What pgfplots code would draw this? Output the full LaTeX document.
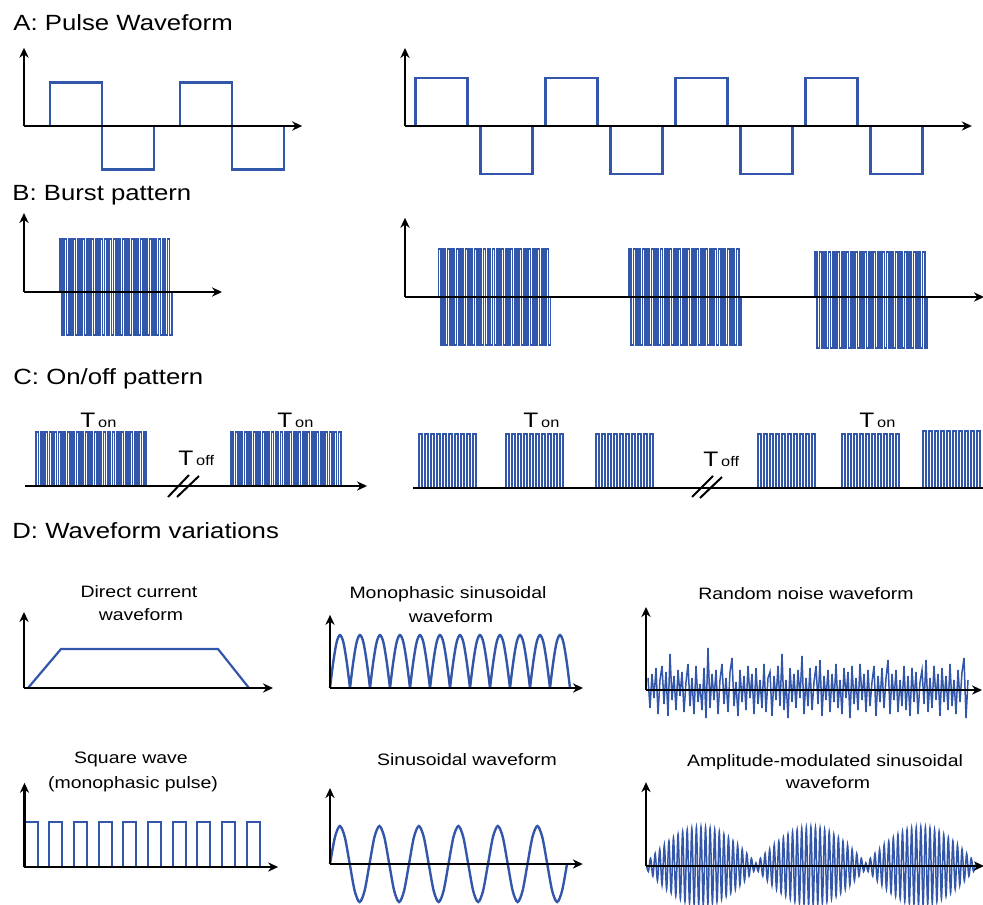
\documentclass[border=0pt]{standalone}
\usepackage{pgfplots}
\pgfplotsset{compat=1.18}
\usepackage{fontspec}
\setmainfont{Liberation Sans}
\usepackage{graphicx}
\usetikzlibrary{arrows.meta}
\definecolor{wblue}{RGB}{50,86,170}
\tikzset{axarr/.style={black,line width=1.1pt,-{Stealth[length=5pt,width=4.6pt]}},
 axline/.style={black,line width=1.1pt},
 brk/.style={black,line width=1pt}}
\pgfplotsset{wave/.style={hide axis, clip=false, anchor=origin},
 burst/.style={wblue, line width=0.85pt, const plot}}
\newcommand\ttl[1]{\scalebox{1.17}[1]{\fontsize{11}{13}\selectfont #1}}
\newcommand\lab[1]{\scalebox{1.18}[1]{\fontsize{8.25}{10}\selectfont #1}}
\newcommand\Tl[1]{\scalebox{1.17}[1]{\fontsize{10.5}{12}\selectfont T\hspace{1.2pt}\fontsize{7}{8}\selectfont #1}}
\begin{document}
\begin{tikzpicture}[x=0.5pt,y=-0.5pt]
\path[use as bounding box] (0,0) rectangle (983,904);
% ---------- titles ----------
\node[anchor=base west,inner sep=0] at (13,31) {\ttl{A: Pulse Waveform}};
\node[anchor=base west,inner sep=0] at (12,200) {\ttl{B: Burst pattern}};
\node[anchor=base west,inner sep=0] at (13,384) {\ttl{C: On/off pattern}};
\node[anchor=base west,inner sep=0] at (12,538) {\ttl{D: Waveform variations}};
% ---------- A left ----------
\begin{axis}[wave, at={(12pt,-63pt)}, x=13pt, y=21.75pt, xmin=0, xmax=10.7, ymin=-1.1, ymax=1.8]
\addplot[wblue, line width=1.15pt] coordinates {(0,0)(1,0)(1,1)(3,1)(3,-1)(5,-1)(5,0)(6,0)(6,1)(8,1)(8,-1)(10,-1)(10,0)};
\draw[axarr] (axis cs:0,0) -- (axis cs:10.7,0);
\draw[axarr] (axis cs:0,0) -- (axis cs:0,1.8);
\end{axis}
% ---------- A right ----------
\begin{axis}[wave, at={(202.5pt,-63pt)}, x=6.5pt, y=24pt, xmin=0, xmax=43.6, ymin=-1.1, ymax=1.65]
\addplot[wblue, line width=1.15pt] coordinates {(0,0)(0.8,0)(0.8,1)(4.8,1)(4.8,0)(5.8,0)(5.8,-1)(9.8,-1)(9.8,0)(10.8,0)(10.8,1)(14.8,1)(14.8,0)(15.8,0)(15.8,-1)(19.8,-1)(19.8,0)(20.8,0)(20.8,1)(24.8,1)(24.8,0)(25.8,0)(25.8,-1)(29.8,-1)(29.8,0)(30.8,0)(30.8,1)(34.8,1)(34.8,0)(35.8,0)(35.8,-1)(39.8,-1)(39.8,0)};
\draw[axarr] (axis cs:0,0) -- (axis cs:43.6,0);
\draw[axarr] (axis cs:0,0) -- (axis cs:0,1.625);
\end{axis}
% ---------- B left ----------
\begin{axis}[wave, at={(12pt,-146pt)}, x=1.12pt, y=26.5pt, xmin=0, xmax=88.4, ymin=-0.9, ymax=1.5]
\addplot[burst] coordinates {(16,0)(16,1)(17,-0.81)(18,1)(19,-0.81)(20,1)(21,-0.81)(22,1)(23,-0.81)(24,1)(25,-0.81)(26,1)(27,-0.81)(28,1)(29,-0.81)(30,1)(31,-0.81)(32,1)(33,-0.81)(34,1)(35,-0.81)(36,1)(37,-0.81)(38,1)(39,-0.81)(40,1)(41,-0.81)(42,1)(43,-0.81)(44,1)(45,-0.81)(46,1)(47,-0.81)(48,1)(49,-0.81)(50,1)(51,-0.81)(52,1)(53,-0.81)(54,1)(55,-0.81)(56,1)(57,-0.81)(58,1)(59,-0.81)(60,1)(61,-0.81)(62,1)(63,-0.81)(64,1)(65,-0.81)(66,0)};
\draw[axarr] (axis cs:0,0) -- (axis cs:88.4,0);
\draw[axarr] (axis cs:0,0) -- (axis cs:0,1.49);
\end{axis}
% ---------- B right ----------
\begin{axis}[wave, at={(202.5pt,-148.5pt)}, x=1.12pt, y=24pt, xmin=0, xmax=258.5, ymin=-1.1, ymax=1.65]
\addplot[burst] coordinates {(15,0)(15,1)(16,-1)(17,1)(18,-1)(19,1)(20,-1)(21,1)(22,-1)(23,1)(24,-1)(25,1)(26,-1)(27,1)(28,-1)(29,1)(30,-1)(31,1)(32,-1)(33,1)(34,-1)(35,1)(36,-1)(37,1)(38,-1)(39,1)(40,-1)(41,1)(42,-1)(43,1)(44,-1)(45,1)(46,-1)(47,1)(48,-1)(49,1)(50,-1)(51,1)(52,-1)(53,1)(54,-1)(55,1)(56,-1)(57,1)(58,-1)(59,1)(60,-1)(61,1)(62,-1)(63,1)(64,-1)(65,0)};
\addplot[burst] coordinates {(100,0)(100,1)(101,-1)(102,1)(103,-1)(104,1)(105,-1)(106,1)(107,-1)(108,1)(109,-1)(110,1)(111,-1)(112,1)(113,-1)(114,1)(115,-1)(116,1)(117,-1)(118,1)(119,-1)(120,1)(121,-1)(122,1)(123,-1)(124,1)(125,-1)(126,1)(127,-1)(128,1)(129,-1)(130,1)(131,-1)(132,1)(133,-1)(134,1)(135,-1)(136,1)(137,-1)(138,1)(139,-1)(140,1)(141,-1)(142,1)(143,-1)(144,1)(145,-1)(146,1)(147,-1)(148,1)(149,-1)(150,0)};
\addplot[burst] coordinates {(183,0)(183,0.94)(184,-1.06)(185,0.94)(186,-1.06)(187,0.94)(188,-1.06)(189,0.94)(190,-1.06)(191,0.94)(192,-1.06)(193,0.94)(194,-1.06)(195,0.94)(196,-1.06)(197,0.94)(198,-1.06)(199,0.94)(200,-1.06)(201,0.94)(202,-1.06)(203,0.94)(204,-1.06)(205,0.94)(206,-1.06)(207,0.94)(208,-1.06)(209,0.94)(210,-1.06)(211,0.94)(212,-1.06)(213,0.94)(214,-1.06)(215,0.94)(216,-1.06)(217,0.94)(218,-1.06)(219,0.94)(220,-1.06)(221,0.94)(222,-1.06)(223,0.94)(224,-1.06)(225,0.94)(226,-1.06)(227,0.94)(228,-1.06)(229,0.94)(230,-1.06)(231,0.94)(232,-1.06)(233,0)};
\draw[axarr] (axis cs:0,0) -- (axis cs:258.5,0);
\draw[axarr] (axis cs:0,0) -- (axis cs:0,1.65);
\end{axis}
% ---------- C left ----------
\begin{axis}[wave, at={(12.5pt,-243pt)}, x=1.12pt, y=27pt, xmin=0, xmax=152.7, ymin=-0.2, ymax=1.1]
\addplot[burst] coordinates {(5,0)(5,1)(6,0)(7,1)(8,0)(9,1)(10,0)(11,1)(12,0)(13,1)(14,0)(15,1)(16,0)(17,1)(18,0)(19,1)(20,0)(21,1)(22,0)(23,1)(24,0)(25,1)(26,0)(27,1)(28,0)(29,1)(30,0)(31,1)(32,0)(33,1)(34,0)(35,1)(36,0)(37,1)(38,0)(39,1)(40,0)(41,1)(42,0)(43,1)(44,0)(45,1)(46,0)(47,1)(48,0)(49,1)(50,0)(51,1)(52,0)(53,1)(54,0)};
\addplot[burst] coordinates {(92,0)(92,1)(93,0)(94,1)(95,0)(96,1)(97,0)(98,1)(99,0)(100,1)(101,0)(102,1)(103,0)(104,1)(105,0)(106,1)(107,0)(108,1)(109,0)(110,1)(111,0)(112,1)(113,0)(114,1)(115,0)(116,1)(117,0)(118,1)(119,0)(120,1)(121,0)(122,1)(123,0)(124,1)(125,0)(126,1)(127,0)(128,1)(129,0)(130,1)(131,0)(132,1)(133,0)(134,1)(135,0)(136,1)(137,0)(138,1)(139,0)(140,1)(141,0)};
\draw[axarr] (axis cs:0,0) -- (axis cs:152.7,0);
\end{axis}
\draw[brk] (168,497) -- (189,475);
\draw[brk] (177,497) -- (199,476);
\node[anchor=base west,inner sep=0] at (80,427) {\Tl{on}};
\node[anchor=base west,inner sep=0] at (277,427) {\Tl{on}};
\node[anchor=base west,inner sep=0] at (178,465) {\Tl{off}};
% ---------- C right ----------
\begin{axis}[wave, at={(206.5pt,-244pt)}, x=1.5pt, y=27pt, xmin=0, xmax=190, ymin=-0.2, ymax=1.1]
\addplot[burst] coordinates {(2,0)(2,1)(3,0)(4,1)(5,0)(6,1)(7,0)(8,1)(9,0)(10,1)(11,0)(12,1)(13,0)(14,1)(15,0)(16,1)(17,0)(18,1)(19,0)(20,1)(21,0)};
\addplot[burst] coordinates {(31,0)(31,1)(32,0)(33,1)(34,0)(35,1)(36,0)(37,1)(38,0)(39,1)(40,0)(41,1)(42,0)(43,1)(44,0)(45,1)(46,0)(47,1)(48,0)(49,1)(50,0)};
\addplot[burst] coordinates {(61,0)(61,1)(62,0)(63,1)(64,0)(65,1)(66,0)(67,1)(68,0)(69,1)(70,0)(71,1)(72,0)(73,1)(74,0)(75,1)(76,0)(77,1)(78,0)(79,1)(80,0)};
\addplot[burst] coordinates {(115,0)(115,1)(116,0)(117,1)(118,0)(119,1)(120,0)(121,1)(122,0)(123,1)(124,0)(125,1)(126,0)(127,1)(128,0)(129,1)(130,0)(131,1)(132,0)(133,1)(134,0)};
\addplot[burst] coordinates {(143,0)(143,1)(144,0)(145,1)(146,0)(147,1)(148,0)(149,1)(150,0)(151,1)(152,0)(153,1)(154,0)(155,1)(156,0)(157,1)(158,0)(159,1)(160,0)(161,1)(162,0)};
\addplot[burst] coordinates {(170,0)(170,1.05)(171,0)(172,1.05)(173,0)(174,1.05)(175,0)(176,1.05)(177,0)(178,1.05)(179,0)(180,1.05)(181,0)(182,1.05)(183,0)(184,1.05)(185,0)(186,1.05)(187,0)(188,1.05)(189,0)};
\draw[axline] (axis cs:0,0) -- (axis cs:190,0);
\end{axis}
\draw[brk] (692,497) -- (713,476);
\draw[brk] (700,498) -- (722,477);
\node[anchor=base west,inner sep=0] at (523,427) {\Tl{on}};
\node[anchor=base west,inner sep=0] at (859,427) {\Tl{on}};
\node[anchor=base west,inner sep=0] at (703,466) {\Tl{off}};
% ---------- D labels ----------
\node[anchor=base,inner sep=0] at (139,597) {\lab{Direct current}};
\node[anchor=base,inner sep=0] at (141,620) {\lab{waveform}};
\node[anchor=base,inner sep=0] at (448,598) {\lab{Monophasic sinusoidal}};
\node[anchor=base,inner sep=0] at (451,622) {\lab{waveform}};
\node[anchor=base,inner sep=0] at (806,599) {\lab{Random noise waveform}};
\node[anchor=base,inner sep=0] at (131,763) {\lab{Square wave}};
\node[anchor=base,inner sep=0] at (133,788) {\lab{(monophasic pulse)}};
\node[anchor=base,inner sep=0] at (467,765) {\lab{Sinusoidal waveform}};
\node[anchor=base,inner sep=0] at (825,766) {\lab{Amplitude-modulated sinusoidal}};
\node[anchor=base,inner sep=0] at (828,788) {\lab{waveform}};
% ---------- D: direct current ----------
\begin{axis}[wave, at={(12pt,-344pt)}, x=5pt, y=19.5pt, xmin=0, xmax=24.9, ymin=-0.1, ymax=1.95]
\addplot[wblue, line width=1.1pt] coordinates {(0.4,0)(3.7,1)(19.4,1)(22.5,0)};
\draw[axarr] (axis cs:0,0) -- (axis cs:24.9,0);
\draw[axarr] (axis cs:0,0) -- (axis cs:0,1.95);
\end{axis}
% ---------- D: monophasic sinusoidal ----------
\begin{axis}[wave, at={(165pt,-344pt)}, x=10pt, y=26.5pt, xmin=0, xmax=12.65, ymin=-0.1, ymax=1.38, unbounded coords=jump]
\addplot[wblue, line width=1.2pt, smooth] coordinates {
(0,0)(0.167,0.5)(0.333,0.866)(0.5,1)(0.667,0.866)(0.833,0.5)(1,0)(1,nan)
(1,0)(1.167,0.5)(1.333,0.866)(1.5,1)(1.667,0.866)(1.833,0.5)(2,0)(2,nan)
(2,0)(2.167,0.5)(2.333,0.866)(2.5,1)(2.667,0.866)(2.833,0.5)(3,0)(3,nan)
(3,0)(3.167,0.5)(3.333,0.866)(3.5,1)(3.667,0.866)(3.833,0.5)(4,0)(4,nan)
(4,0)(4.167,0.5)(4.333,0.866)(4.5,1)(4.667,0.866)(4.833,0.5)(5,0)(5,nan)
(5,0)(5.167,0.5)(5.333,0.866)(5.5,1)(5.667,0.866)(5.833,0.5)(6,0)(6,nan)
(6,0)(6.167,0.5)(6.333,0.866)(6.5,1)(6.667,0.866)(6.833,0.5)(7,0)(7,nan)
(7,0)(7.167,0.5)(7.333,0.866)(7.5,1)(7.667,0.866)(7.833,0.5)(8,0)(8,nan)
(8,0)(8.167,0.5)(8.333,0.866)(8.5,1)(8.667,0.866)(8.833,0.5)(9,0)(9,nan)
(9,0)(9.167,0.5)(9.333,0.866)(9.5,1)(9.667,0.866)(9.833,0.5)(10,0)(10,nan)
(10,0)(10.167,0.5)(10.333,0.866)(10.5,1)(10.667,0.866)(10.833,0.5)(11,0)(11,nan)
(11,0)(11.167,0.5)(11.333,0.866)(11.5,1)(11.667,0.866)(11.833,0.5)(12,0)};
\draw[axarr] (axis cs:0,0) -- (axis cs:12.65,0);
\draw[axarr] (axis cs:0,0) -- (axis cs:0,1.38);
\end{axis}
% ---------- D: random noise ----------
\begin{axis}[wave, at={(323pt,-345pt)}, x=1pt, y=10pt, xmin=0, xmax=168, ymin=-1.5, ymax=4.15]
\addplot[wblue, line width=0.75pt] coordinates {
(1,0.6)(2,-0.9)(3,0.8)(4,-0.4)(5,1.1)(6,-1.2)(7,0.5)(8,1.2)(9,-0.7)(10,0.9)
(11,-1.3)(12,1.8)(13,-0.5)(14,0.7)(15,-1.0)(16,1.0)(17,-0.3)(18,0.9)(19,-1.1)(20,0.4)
(21,1.3)(22,-0.8)(23,0.6)(24,-1.2)(25,1.2)(26,-0.6)(27,0.3)(28,-1.0)(29,1.1)(30,-1.4)
(31,2.1)(32,-0.9)(33,0.8)(34,-0.5)(35,1.0)(36,-1.2)(37,0.5)(38,1.3)(39,-0.7)(40,0.6)
(41,-1.1)(42,0.9)(43,1.6)(44,-0.8)(45,0.4)(46,-1.3)(47,1.0)(48,-0.6)(49,0.7)(50,-1.0)
(51,1.2)(52,-0.4)(53,0.8)(54,-1.2)(55,1.1)(56,-0.7)(57,0.5)(58,-0.9)(59,1.3)(60,-1.1)
(61,0.6)(62,0.9)(63,-1.3)(64,0.7)(65,-0.5)(66,1.2)(67,-0.8)(68,1.8)(69,-1.0)(70,0.5)
(71,-1.4)(72,1.1)(73,-0.6)(74,0.8)(75,-0.9)(76,1.0)(77,-0.4)(78,1.7)(79,-1.2)(80,0.6)
(81,-0.8)(82,1.1)(83,-1.0)(84,0.4)(85,1.2)(86,-0.7)(87,1.5)(88,-1.3)(89,0.7)(90,-0.5)
(91,1.0)(92,-1.1)(93,0.8)(94,-0.6)(95,1.3)(96,-0.9)(97,0.5)(98,-1.2)(99,1.1)(100,-0.4)
(101,0.9)(102,-1.4)(103,1.2)(104,-0.7)(105,0.6)(106,-1.0)(107,1.3)(108,-0.5)(109,0.8)(110,-1.1)
(111,1.0)(112,-0.8)(113,0.4)(114,1.2)(115,-1.3)(116,0.7)(117,-0.6)(118,1.1)(119,-0.9)(120,0.6)
(121,1.5)(122,-1.2)(123,0.8)(124,-0.5)(125,1.0)(126,-1.1)(127,0.5)(128,-0.8)(129,1.2)(130,-1.0)
(131,0.7)(132,-1.3)(133,1.1)(134,-0.6)(135,0.9)(136,-1.2)(137,0.4)(138,1.0)(139,-0.7)(140,1.5)
(141,-1.1)(142,0.6)(143,-0.9)(144,1.2)(145,-0.5)(146,0.8)(147,-1.3)(148,1.1)(149,-0.6)(150,0.7)
(151,-1.0)(152,1.3)(153,-0.8)(154,0.5)(155,-1.2)(156,1.0)(157,-0.6)(158,0.9)(159,1.6)(160,-1.4)(161,0.5)};
\draw[axarr] (axis cs:0,0) -- (axis cs:168,0);
\draw[axarr] (axis cs:0,0) -- (axis cs:0,4.15);
\end{axis}
% ---------- D: square wave ----------
\begin{axis}[wave, at={(12.25pt,-433.5pt)}, x=12.335pt, y=22.5pt, xmin=0, xmax=10.28, ymin=-0.1, ymax=1.87]
\addplot[wblue, line width=1pt] coordinates {(0,0)(0,1)(0.53,1)(0.53,0)(1,0)(1,1)(1.53,1)(1.53,0)(2,0)(2,1)(2.53,1)(2.53,0)(3,0)(3,1)(3.53,1)(3.53,0)(4,0)(4,1)(4.53,1)(4.53,0)(5,0)(5,1)(5.53,1)(5.53,0)(6,0)(6,1)(6.53,1)(6.53,0)(7,0)(7,1)(7.53,1)(7.53,0)(8,0)(8,1)(8.53,1)(8.53,0)(9,0)(9,1)(9.53,1)(9.53,0)};
\draw[axarr] (axis cs:0,0) -- (axis cs:10.28,0);
\draw[axarr] (axis cs:0,0) -- (axis cs:0,1.87);
\end{axis}
% ---------- D: sinusoidal ----------
\begin{axis}[wave, at={(165pt,-432pt)}, x=19.75pt, y=19pt, xmin=0, xmax=6.4, ymin=-1.1, ymax=2.0]
\addplot[wblue, line width=1.2pt, smooth] coordinates {
(0,0)(0.125,0.707)(0.25,1)(0.375,0.707)(0.5,0)(0.625,-0.707)(0.75,-1)(0.875,-0.707)
(1,0)(1.125,0.707)(1.25,1)(1.375,0.707)(1.5,0)(1.625,-0.707)(1.75,-1)(1.875,-0.707)
(2,0)(2.125,0.707)(2.25,1)(2.375,0.707)(2.5,0)(2.625,-0.707)(2.75,-1)(2.875,-0.707)
(3,0)(3.125,0.707)(3.25,1)(3.375,0.707)(3.5,0)(3.625,-0.707)(3.75,-1)(3.875,-0.707)
(4,0)(4.125,0.707)(4.25,1)(4.375,0.707)(4.5,0)(4.625,-0.707)(4.75,-1)(4.875,-0.707)
(5,0)(5.125,0.707)(5.25,1)(5.375,0.707)(5.5,0)(5.625,-0.707)(5.75,-1)(5.875,-0.707)(6,0)};
\draw[axarr] (axis cs:0,0) -- (axis cs:6.4,0);
\draw[axarr] (axis cs:0,0) -- (axis cs:0,2.0);
\end{axis}
% ---------- D: amplitude-modulated ----------
\begin{axis}[wave, at={(323pt,-433pt)}, x=1.145pt, y=19.5pt, xmin=0, xmax=147.6, ymin=-1.1, ymax=2.15]
\addplot[wblue, line width=0.75pt, smooth] coordinates {
(0,0.08)(1,-0.14)(2,0.2)(3,-0.26)(4,0.32)(5,-0.38)(6,0.43)(7,-0.49)(8,0.54)(9,-0.59)(10,0.64)(11,-0.69)(12,0.73)(13,-0.77)(14,0.81)(15,-0.84)(16,0.88)(17,-0.91)(18,0.93)(19,-0.95)(20,0.97)(21,-0.98)(22,0.99)(23,-1)(24,1)(25,-1)(26,0.99)(27,-0.98)(28,0.97)(29,-0.95)(30,0.93)(31,-0.91)(32,0.88)(33,-0.84)(34,0.81)(35,-0.77)(36,0.73)(37,-0.69)(38,0.64)(39,-0.59)(40,0.54)(41,-0.49)(42,0.43)(43,-0.38)(44,0.32)(45,-0.26)(46,0.2)(47,-0.14)
(48,0.08)(49,-0.14)(50,0.2)(51,-0.26)(52,0.32)(53,-0.38)(54,0.43)(55,-0.49)(56,0.54)(57,-0.59)(58,0.64)(59,-0.69)(60,0.73)(61,-0.77)(62,0.81)(63,-0.84)(64,0.88)(65,-0.91)(66,0.93)(67,-0.95)(68,0.97)(69,-0.98)(70,0.99)(71,-1)(72,1)(73,-1)(74,0.99)(75,-0.98)(76,0.97)(77,-0.95)(78,0.93)(79,-0.91)(80,0.88)(81,-0.84)(82,0.81)(83,-0.77)(84,0.73)(85,-0.69)(86,0.64)(87,-0.59)(88,0.54)(89,-0.49)(90,0.43)(91,-0.38)(92,0.32)(93,-0.26)(94,0.2)(95,-0.14)
(96,0.08)(97,-0.14)(98,0.2)(99,-0.26)(100,0.32)(101,-0.38)(102,0.43)(103,-0.49)(104,0.54)(105,-0.59)(106,0.64)(107,-0.69)(108,0.73)(109,-0.77)(110,0.81)(111,-0.84)(112,0.88)(113,-0.91)(114,0.93)(115,-0.95)(116,0.97)(117,-0.98)(118,0.99)(119,-1)(120,1)(121,-1)(122,0.99)(123,-0.98)(124,0.97)(125,-0.95)(126,0.93)(127,-0.91)(128,0.88)(129,-0.84)(130,0.81)(131,-0.77)(132,0.73)(133,-0.69)(134,0.64)(135,-0.59)(136,0.54)(137,-0.49)(138,0.43)(139,-0.38)(140,0.32)(141,-0.26)(142,0.2)(143,-0.14)(144,0.08)};
\draw[axarr] (axis cs:0,0) -- (axis cs:147.6,0);
\draw[axarr] (axis cs:0,0) -- (axis cs:0,2.15);
\end{axis}
\end{tikzpicture}
\end{document}
